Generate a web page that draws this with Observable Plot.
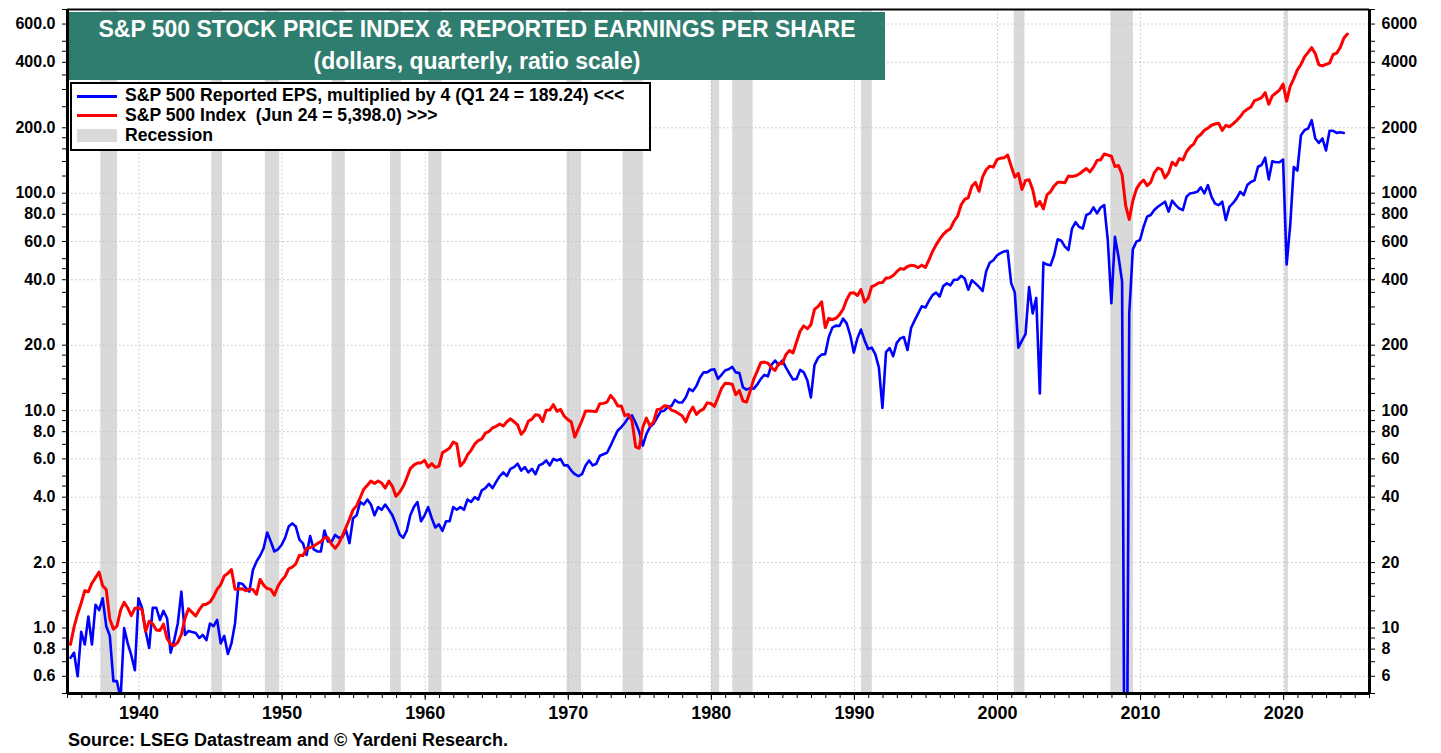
<!DOCTYPE html>
<html><head><meta charset="utf-8">
<script src="https://cdn.jsdelivr.net/npm/d3@7"></script>
<script src="https://cdn.jsdelivr.net/npm/@observablehq/plot@0.6"></script>
<style>
body{margin:0;background:#fff;}
#wrap{position:relative;width:1441px;height:753px;font-family:Arial,"Liberation Sans",sans-serif;font-weight:bold;}
#title{position:absolute;left:69px;top:12px;width:816px;height:68px;background:#2e7d6f;color:#fff;font-size:23px;text-align:center;}
#title .l1{position:absolute;left:0;right:0;top:4px;}
#title .l2{position:absolute;left:0;right:0;top:36px;}
#legend{position:absolute;left:70px;top:82px;width:577px;height:65px;border:2px solid #000;background:#fff;font-size:17.6px;}
.row{position:absolute;left:53px;white-space:pre;}
.sw{position:absolute;left:5px;width:40px;}
#caption{position:absolute;left:68px;top:730px;font-size:18px;white-space:pre;font-family:"Liberation Sans Narrow","Arial Narrow",Arial,sans-serif;}
</style></head><body><div id="wrap"><div id="chart"></div>
<div id="title"><div class="l1">S&amp;P 500 STOCK PRICE INDEX &amp; REPORTED EARNINGS PER SHARE</div><div class="l2">(dollars, quarterly, ratio scale)</div></div>
<div id="legend">
<div class="sw" style="top:11px;height:3px;background:#0000ff"></div><div class="row" style="top:1px">S&amp;P 500 Reported EPS, multiplied by 4 (Q1 24 = 189.24) &lt;&lt;&lt;</div>
<div class="sw" style="top:30px;height:3px;background:#ff0000"></div><div class="row" style="top:21px">S&amp;P 500 Index  (Jun 24 = 5,398.0) &gt;&gt;&gt;</div>
<div class="sw" style="top:45px;height:13px;background:#d9d9d9"></div><div class="row" style="top:41px">Recession</div>
</div>
<div id="caption">Source: LSEG Datastream and © Yardeni Research.</div>
</div>
<script>
const firstYear = 1935;
// S&P 500 reported EPS (quarterly, x4), 1935Q1 .. 2024Q1
const eps = [
0.73,0.77,0.60,0.96, 0.84,1.13,0.84,1.28, 1.21,1.37,1.02,0.92, 0.57,0.57,0.47,1.00,
0.85,0.75,0.64,1.37, 1.24,0.97,0.81,1.24, 1.24,1.09,1.20,1.11, 0.77,0.88,1.05,1.47,
0.93,0.97,0.96,0.95, 0.90,0.93,0.88,1.05, 1.02,1.09,0.85,0.92, 0.76,0.85,1.05,1.61,
1.60,1.53,1.47,1.85, 2.02,2.15,2.33,2.75, 2.50,2.25,2.30,2.41, 2.60,2.93,3.03,2.93,
2.55,2.45,2.17,2.65, 2.30,2.25,2.25,2.81, 2.50,2.50,2.68,2.60, 2.62,2.83,2.46,3.20,
3.3,3.8,3.7,3.9, 3.7,3.3,3.6,3.5, 3.7,3.5,3.3,3.0, 2.7,2.6,2.8,3.3,
3.6,3.8,3.1,3.3, 3.6,3.2,2.9,3.0, 2.8,3.1,3.1,3.6, 3.5,3.6,3.5,3.9,
3.8,4.0,3.9,4.3, 4.4,4.6,4.4,4.7, 5.0,5.2,5.0,5.4, 5.5,5.7,5.3,5.5,
5.2,5.4,5.1,5.6, 5.7,5.9,5.6,6.0, 5.9,6.0,5.6,5.6, 5.3,5.1,5.0,5.1,
5.6,5.9,5.6,5.7, 6.2,6.3,6.4,6.9, 7.5,8.1,8.4,8.8, 9.3,9.5,8.8,8.0,
6.9,7.8,8.4,8.7, 9.3,9.9,10.0,10.4, 10.5,11.2,10.9,10.9, 11.5,12.6,12.3,13.0,
14.2,15.0,15.0,15.4, 15.5,14.0,14.6,15.3, 15.5,15.9,15.0,14.9, 12.8,12.5,12.7,12.6,
13.2,14.0,14.6,14.4, 16.3,17.0,16.2,17.0, 15.8,14.8,13.9,14.0, 15.4,15.0,13.8,11.5,
16.2,17.5,18.1,18.2, 21.8,24.1,24.6,24.5, 26.5,25.2,22.2,18.5, 21.5,23.6,21.1,19.2,
19.5,18.2,15.8,10.3, 18.6,19.4,17.8,20.5, 21.5,21.8,19.0,24.0, 26.0,28.0,30.2,29.8,
32.0,34.0,34.9,33.5, 37.4,38.5,37.7,40.0, 40.0,41.7,40.5,36.0, 39.8,38.5,37.1,35.5,
43.8,47.9,49.2,51.7, 53.0,54.0,54.4,38.5, 35.0,19.5,21.0,22.5, 37.0,28.0,33.0,12.0,
48.0,47.0,46.6,52.0, 61.4,60.5,56.8,54.8, 68.8,73.6,70.0,68.8, 79.4,80.8,86.0,80.8,
86.0,88.2,61.0,31.2, 63.0,51.0,39.2,-93.0, 28.0,55.2,59.9,60.9, 70.0,78.0,79.4,83.7,
86.6,89.0,91.4,82.3, 92.4,88.2,85.0,83.7, 96.3,99.8,100.5,101.5, 106.4,99.8,109.0,96.3,
89.6,88.2,91.4,75.3, 86.6,90.0,94.7,101.5, 98.0,109.0,112.7,114.6, 132.4,134.9,145.7,115.8,
140.4,138.9,138.9,142.9, 47.0,71.3,132.0,127.0, 184.8,195.0,198.5,216.8, 178.6,170.4,178.6,157.4,
193.8,193.8,189.5,190.6, 189.24
];
// S&P 500 index (quarter-end month), 1935Q1 .. 2024Q2
const spx = [
8.41,10.12,11.61,13.04, 14.86,14.69,16.08,17.06, 18.09,15.64,15.02,10.99, 9.89,10.21,12.08,13.13,
12.37,11.41,12.32,12.37, 12.15,9.66,10.75,10.43, 9.80,9.74,10.42,8.95, 8.44,8.31,8.59,9.34,
11.07,12.27,11.81,11.37, 12.13,12.79,12.88,13.17, 13.95,15.09,15.84,17.35, 17.84,18.58,15.09,15.13,
15.17,14.84,15.11,15.03, 14.30,16.74,15.76,15.19, 15.06,14.16,15.58,16.54, 17.29,18.74,19.08,19.75,
21.63,21.55,23.26,23.41, 23.81,24.46,24.98,26.04, 25.99,24.29,23.27,24.44, 26.57,28.96,31.71,34.97,
36.58,39.78,43.52,45.35, 47.49,46.27,47.49,46.44, 44.03,47.37,44.87,40.33, 42.11,44.75,48.96,54.11,
56.15,57.46,57.51,59.06, 55.02,57.06,54.81,55.61, 64.12,65.62,67.26,71.74, 70.29,55.63,58.00,62.64,
65.67,70.11,72.85,74.17, 78.80,80.24,83.41,84.75, 86.83,85.04,88.89,91.73, 88.88,86.06,77.81,81.33,
89.42,91.43,95.81,95.30, 89.09,100.5,100.7,106.5, 99.3,101.3,94.5,91.1, 88.65,75.59,82.58,90.05,
99.6,99.72,99.4,99.17, 107.7,108.0,109.4,117.5, 112.4,105.0,105.0,94.8, 96.1,89.7,68.1,67.1,
83.8,92.4,85.0,88.7, 101.1,101.8,105.2,104.7, 100.6,99.3,97.0,94.8, 88.8,97.7,103.9,96.1,
99.7,101.7,108.6,107.8, 104.7,114.6,126.5,133.5, 133.2,132.3,118.3,123.8, 110.8,109.6,122.4,139.4,
151.9,166.4,167.2,165.2, 157.4,153.1,165.0,164.5, 180.7,188.9,184.1,207.3, 232.3,245.3,238.3,248.6,
292.5,301.4,316.7,241.0, 265.7,262.6,266.0,276.5, 292.7,323.7,347.3,348.6, 338.5,360.4,315.4,328.8,
372.3,378.3,387.2,388.5, 407.4,408.3,418.5,435.6, 450.2,447.3,460.1,465.9, 463.8,454.8,467.0,455.2,
493.2,539.4,578.8,614.6, 647.1,670.6,687.3,743.3, 784.1,885.1,937.0,955.4, 1076.8,1121.0,1020.6,1190.0,
1282.7,1332.1,1318.2,1428.7, 1450.2,1455.2,1498.6,1330.9, 1185.9,1234.3,1040.9,1144.9, 1153.8,1040.9,870.5,917.6,
847.1,982.9,1017.0,1080.6, 1124.2,1122.6,1117.7,1199.2, 1194.9,1202.3,1225.9,1262.1, 1300.0,1253.1,1317.8,1416.4,
1424.2,1514.5,1498.2,1479.2, 1326.4,1341.3,1216.9,877.6, 757.1,923.3,1044.6,1110.4, 1150.7,1083.4,1122.1,1243.3,
1304.5,1287.5,1175.4,1243.3, 1389.2,1341.3,1443.4,1422.3, 1551.7,1631.9,1682.0,1807.8, 1863.5,1947.1,1993.2,2054.3,
2082.0,2099.3,1944.4,2054.1, 2021.9,2083.9,2157.7,2246.6, 2366.8,2434.0,2492.8,2664.3, 2702.8,2754.4,2901.5,2567.3,
2804.0,2890.2,2983.0,3176.7, 2652.4,3104.7,3365.5,3695.3, 3910.5,4238.5,4445.5,4674.8, 4391.3,3898.9,3850.5,3912.4,
3968.6,4345.4,4409.1,4685.1, 5170.6,5398.0
];
// NBER recessions (decimal years)
const recStart = [1937.33,1945.08,1948.83,1953.50,1957.58,1960.25,1969.92,1973.83,1980.00,1981.50,1990.50,2001.17,2007.92,2020.08];
const recEnd   = [1938.50,1945.83,1949.83,1954.42,1958.33,1961.17,1970.92,1975.25,1980.58,1982.92,1991.25,2001.92,2009.50,2020.33];
const yTicks = [0.6,0.8,1,2,4,6,8,10,20,40,60,80,100,200,400,600];
const yMinor = [0.5,0.7,0.9, 1.2,1.4,1.6,1.8,2.5,3,3.5,4.5,5,7,9, 12,14,16,18,25,30,35,45,50,70,90, 120,140,160,180,250,300,350,450,500,700];
const decades = [1940,1950,1960,1970,1980,1990,2000,2010,2020];
const years = d3.range(1935, 2027);

const qTime = i => firstYear + i * 0.25 + 2.5 / 12;
const epsData = eps.map((v, i) => ({t: qTime(i), v}));
const spxData = spx.map((v, i) => ({t: qTime(i), v}));
const rec = recStart.map((s, i) => ({s, e: recEnd[i]}));

const font = {fontFamily: "Arial, 'Liberation Sans', sans-serif", fontWeight: "bold", fontSize: 16, fill: "#000"};
const narrow = {fontFamily: "'Liberation Sans Narrow', 'Arial Narrow', Arial, sans-serif", fontWeight: "bold", fontSize: 18, fill: "#000"};
const grid = {stroke: "#c4c4c4", strokeDasharray: "1.5,2.5", strokeWidth: 1};
const plot = Plot.plot({
  width: 1441, height: 753,
  marginLeft: 67, marginRight: 72, marginTop: 9, marginBottom: 60,
  x: {domain: [1935, 2026]},
  y: {type: "log", domain: [0.5, 700]},
  marks: [
    Plot.rect(rec, {x1: "s", x2: "e", fill: "#d9d9d9"}),
    Plot.ruleX(decades, grid),
    Plot.ruleY(yTicks, grid),
    Plot.line(epsData, {x: "t", y: d => d.v > 0 ? d.v : 0.01, stroke: "#0000ff", strokeWidth: 2.6, clip: true}),
    Plot.line(spxData, {x: "t", y: d => d.v / 10, stroke: "#ff0000", strokeWidth: 3, clip: true}),
    Plot.axisY(yTicks.concat(yMinor), {anchor: "left", tickSize: 5, tickFormat: () => "", label: null}),
    Plot.axisY(yTicks.concat(yMinor), {anchor: "right", tickSize: 5, tickFormat: () => "", label: null}),
    Plot.text(yTicks, {y: d => d, text: d => d.toFixed(1), frameAnchor: "left", textAnchor: "end", dx: -12, ...font}),
    Plot.text(yTicks, {y: d => d, text: d => String(Math.round(d * 10)), frameAnchor: "right", textAnchor: "start", dx: 12, ...font}),
    Plot.axisX(years, {anchor: "bottom", tickSize: 5, tickFormat: () => "", label: null}),
    Plot.axisX(decades, {anchor: "bottom", tickSize: 7, tickPadding: 6, tickFormat: d => String(d), label: null, ...narrow}),
    Plot.ruleY([700], {stroke: "#000", strokeWidth: 2}),
    Plot.ruleY([0.5], {stroke: "#000", strokeWidth: 3}),
    Plot.ruleX([1935], {stroke: "#000", strokeWidth: 3}),
    Plot.ruleX([2026], {stroke: "#000", strokeWidth: 3})
  ]
});
document.getElementById("chart").appendChild(plot);
</script></body></html>
